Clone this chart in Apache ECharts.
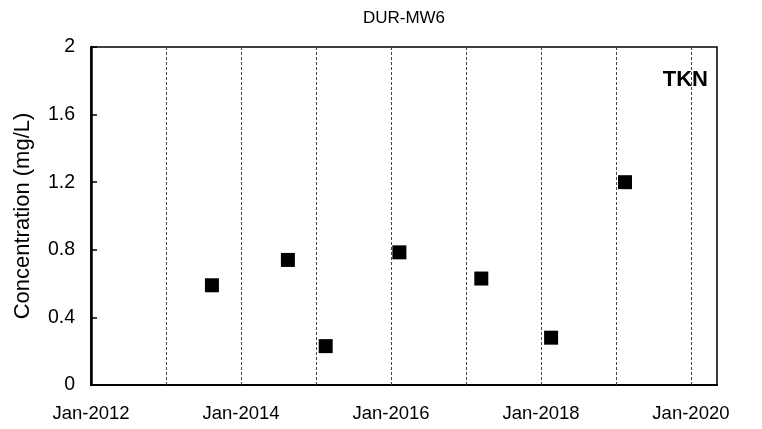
<!DOCTYPE html>
<html>
<head>
<meta charset="utf-8">
<script src="https://cdn.jsdelivr.net/npm/echarts@6/dist/echarts.min.js"></script>
<style>html,body{margin:0;padding:0;background:#fff}#c{width:762px;height:429px}</style>
</head>
<body>
<div id="c"></div>
<script>
// Data
var sampleDates = ['2013-08-12', '2014-08-17', '2015-02-17', '2016-02-11', '2017-03-16', '2018-02-19', '2019-02-14'];
var tknValues = [0.59, 0.74, 0.23, 0.785, 0.63, 0.28, 1.2];
var labelYears = [2012, 2014, 2016, 2018, 2020];
var gridYears = [2013, 2014, 2015, 2016, 2017, 2018, 2019, 2020];
var yTicks = [0, 0.4, 0.8, 1.2, 1.6, 2];

function ms(s) { var p = s.split('-'); return Date.UTC(+p[0], +p[1] - 1, +p[2]); }
var xMin = Date.UTC(2012, 0, 1);
var xMax = Date.UTC(2020, 4, 7);

var chart = echarts.init(document.getElementById('c'), null, {renderer: 'canvas'});
var FONT = 'Liberation Sans, Arial, sans-serif';
chart.setOption({
  animation: false,
  backgroundColor: '#fff',
  grid: {left: 91, right: 45, top: 47, bottom: 44, show: true, borderColor: '#000', borderWidth: 1.5, containLabel: false},
  graphic: [
    {type: 'text', x: 404, y: 18, style: {text: 'DUR-MW6', font: '17px ' + FONT, fill: '#000', textAlign: 'center', textVerticalAlign: 'middle'}},
    {type: 'text', x: 708, y: 80, style: {text: 'TKN', font: 'bold 22px ' + FONT, fill: '#000', textAlign: 'right', textVerticalAlign: 'middle'}}
  ],
  xAxis: {
    type: 'value', min: xMin, max: xMax,
    axisLine: {show: true, lineStyle: {color: '#000', width: 2}},
    axisTick: {show: false},
    splitLine: {show: false},
    axisLabel: {
      customValues: labelYears.map(function (y) { return Date.UTC(y, 0, 1); }),
      formatter: function (v) { return 'Jan-' + new Date(v).getUTCFullYear(); },
      color: '#000', fontSize: 18.5, fontFamily: FONT, margin: 19
    }
  },
  yAxis: {
    type: 'value', min: 0, max: 2, interval: 0.4,
    name: 'Concentration (mg/L)', nameLocation: 'middle', nameRotate: 90, nameGap: 57,
    nameTextStyle: {color: '#000', fontSize: 22, fontFamily: FONT},
    axisLine: {show: true, lineStyle: {color: '#000', width: 2.5}},
    axisTick: {show: true, inside: true, length: 6, lineStyle: {color: '#000', width: 1.5}},
    splitLine: {show: false},
    axisLabel: {
      customValues: yTicks,
      color: '#000', fontSize: 19.5, fontFamily: FONT, margin: 16,
      formatter: function (v) { return String(+v.toFixed(1)); }
    }
  },
  series: [
    {
      type: 'scatter', symbol: 'rect', symbolSize: 14,
      itemStyle: {color: '#000', opacity: 1},
      data: sampleDates.map(function (d, i) { return [ms(d), tknValues[i]]; }),
      z: 5,
      markLine: {
        silent: true, symbol: 'none', label: {show: false},
        lineStyle: {type: [3, 2], color: '#444', width: 1},
        data: gridYears.map(function (y) { return {xAxis: Date.UTC(y, 0, 1)}; })
      }
    }
  ]
});
</script>
</body>
</html>
